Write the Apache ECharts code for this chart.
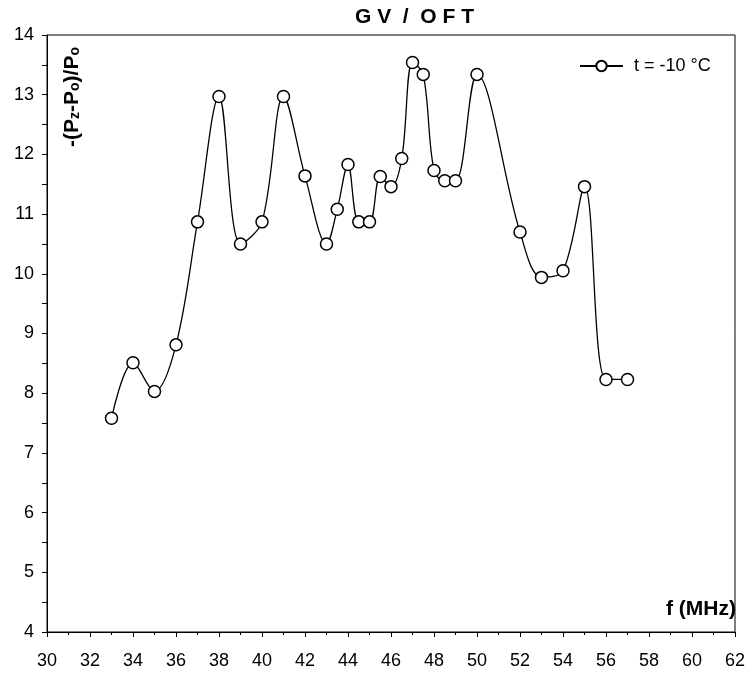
<!DOCTYPE html>
<html>
<head>
<meta charset="utf-8">
<script src="https://cdn.jsdelivr.net/npm/echarts@6/dist/echarts.min.js"></script>
<style>html,body{margin:0;padding:0;background:#fff}#c{width:749px;height:678px}</style>
</head>
<body>
<div id="c"></div>
<script>
var freq = [33,34,35,36,37,38,39,40,41,42,43,43.5,44,44.5,45,45.5,46,46.5,47,47.5,48,48.5,49,50,52,53,54,55,56,57];
var values = [7.58,8.51,8.03,8.81,10.87,12.97,10.50,10.87,12.97,11.64,10.50,11.08,11.83,10.87,10.87,11.63,11.46,11.93,13.54,13.34,11.73,11.56,11.56,13.34,10.70,9.94,10.05,11.46,8.23,8.23];
var seriesName = 't = -10 °C';
var titleText = 'G V  /  O F T';

var FONT = '"Liberation Sans", Arial, sans-serif';
var chart = echarts.init(document.getElementById('c'));
var pts = freq.map(function (f, i) { return [f, values[i]]; });
chart.setOption({
  backgroundColor: '#fff',
  animation: false,
  title: {
    text: titleText,
    left: 350, top: 2,
    textStyle: { fontFamily: FONT, fontSize: 21, fontWeight: 'bold', color: '#000' }
  },
  legend: {
    left: 574, top: 52,
    itemWidth: 43, itemHeight: 13,
    data: [seriesName],
    textStyle: { fontFamily: FONT, fontSize: 18, color: '#000', padding: [0, 0, 0, 6] }
  },
  grid: { left: 47, top: 35, right: 14, bottom: 46, show: true, borderColor: '#000', borderWidth: 1, backgroundColor: 'transparent' },
  xAxis: {
    type: 'value', min: 30, max: 62, interval: 2,
    axisLine: { show: true, lineStyle: { color: '#000', width: 1 } },
    axisTick: { show: true, length: 5, lineStyle: { color: '#000' } },
    minorTick: { show: true, splitNumber: 2, length: 3, lineStyle: { color: '#000' } },
    splitLine: { show: false },
    axisLabel: { fontFamily: FONT, fontSize: 18, color: '#000', margin: 20 }
  },
  yAxis: {
    type: 'value', min: 4, max: 14, interval: 1,
    axisLine: { show: true, lineStyle: { color: '#000', width: 1 } },
    axisTick: { show: true, length: 5, lineStyle: { color: '#000' } },
    minorTick: { show: true, splitNumber: 2, length: 5, lineStyle: { color: '#000' } },
    splitLine: { show: false },
    axisLabel: { fontFamily: FONT, fontSize: 18, color: '#000', margin: 13 }
  },
  graphic: [
    {
      type: 'text', x: 72, y: 97, rotation: Math.PI / 2,
      style: {
        text: '{b|-(P}{s|z}{b|-P}{s|o}{b|)/P}{s|o}',
        fill: '#000', align: 'center', verticalAlign: 'middle',
        rich: {
          b: { fontFamily: FONT, fontSize: 21, fontWeight: 'bold', fill: '#000' },
          s: { fontFamily: FONT, fontSize: 14, fontWeight: 'bold', fill: '#000', verticalAlign: 'bottom', padding: [7, 0, 0, 0] }
        }
      }
    },
    {
      type: 'text', x: 736, y: 609,
      style: { text: 'f (MHz)', fill: '#000', align: 'right', verticalAlign: 'middle',
        font: 'bold 21px "Liberation Sans", Arial, sans-serif' }
    }
  ],
  series: [{
    name: seriesName,
    type: 'line',
    data: pts,
    smooth: 0.35,
    symbol: 'circle',
    symbolSize: 12,
    lineStyle: { color: '#000', width: 1.3 },
    itemStyle: { color: '#fff', borderColor: '#000', borderWidth: 1.5 }
  }]
});
</script>
</body>
</html>
